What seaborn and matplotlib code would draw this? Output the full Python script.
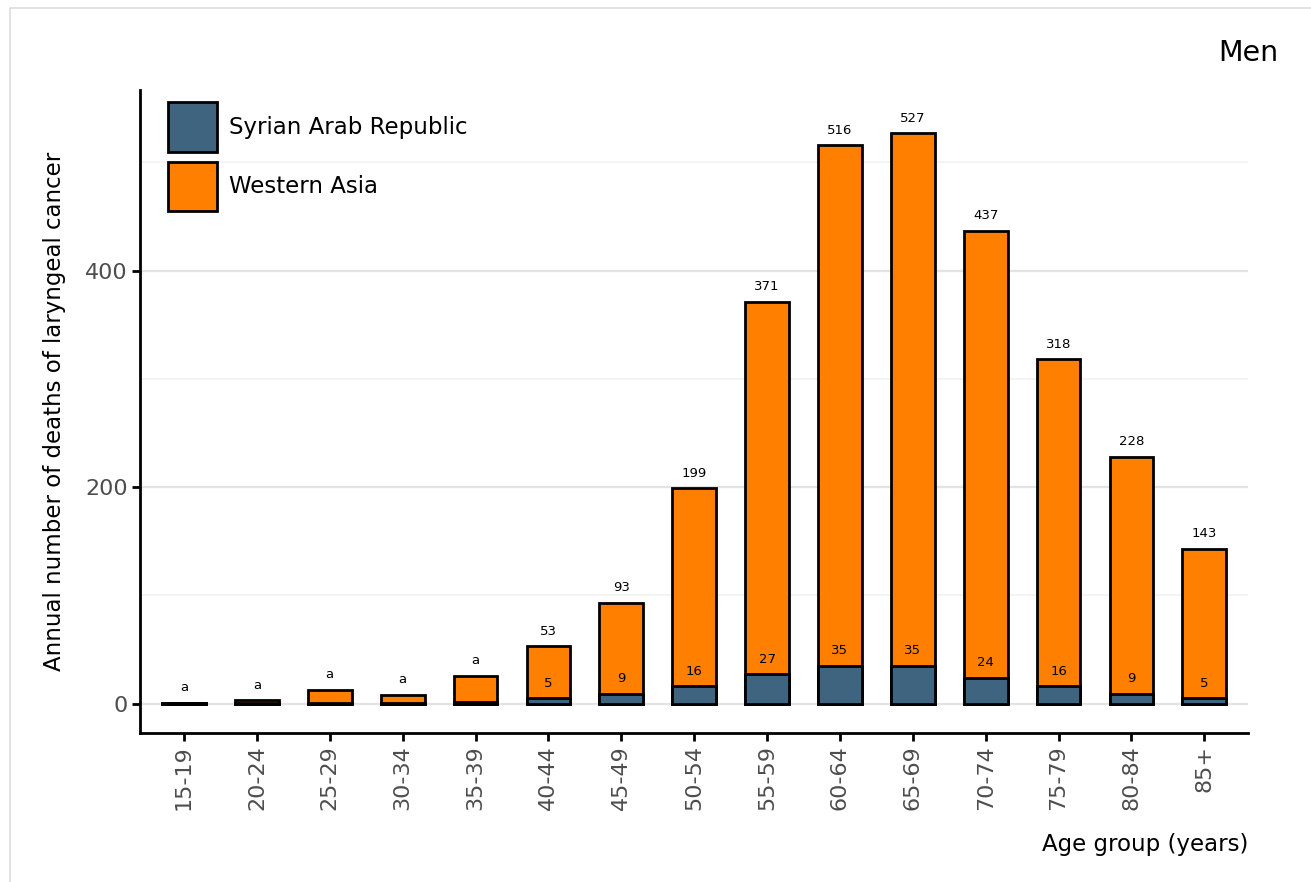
import numpy as np
import pandas as pd
import matplotlib
matplotlib.use("Agg")
import matplotlib.pyplot as plt
import seaborn as sns
from matplotlib.patches import Patch, Rectangle
from matplotlib.ticker import MultipleLocator

age_groups = ['15-19', '20-24', '25-29', '30-34', '35-39', '40-44', '45-49',
              '50-54', '55-59', '60-64', '65-69', '70-74', '75-79', '80-84', '85+']
western_asia = [1, 3, 13, 8, 26, 53, 93, 199, 371, 516, 527, 437, 318, 228, 143]
syria = [0.3, 1, 0.4, 0.5, 2, 5, 9, 16, 27, 35, 35, 24, 16, 9, 5]
wa_labels = ['a', 'a', 'a', 'a', 'a', '53', '93', '199', '371', '516', '527',
             '437', '318', '228', '143']
sy_labels = ['', '', '', '', '', '5', '9', '16', '27', '35', '35', '24', '16', '9', '5']

blue = '#3f6480'
orange = '#ff8000'

sns.set_style("white")
plt.rcParams['font.family'] = ['DejaVu Sans']
plt.rcParams['text.color'] = 'black'
plt.rcParams['axes.labelcolor'] = 'black'

df = pd.DataFrame({'age': age_groups, 'wa': western_asia, 'sy': syria})

fig = plt.figure(figsize=(13.11, 8.82), dpi=100)
ax = fig.add_axes([0.107, 0.169, 0.845, 0.729])

# light border of the figure panel
fig.patches.append(Rectangle((10 / 1311, -0.01), 1.02, (882 - 8) / 882 + 0.01,
                             transform=fig.transFigure, fill=False,
                             edgecolor='#dddddd', linewidth=1.2))

sns.barplot(data=df, x='age', y='wa', color=orange, width=0.6,
            edgecolor='black', linewidth=2, saturation=1, ax=ax, zorder=3)
sns.barplot(data=df, x='age', y='sy', color=blue, width=0.6,
            edgecolor='black', linewidth=2, saturation=1, ax=ax, zorder=4)

for i in range(len(age_groups)):
    ax.text(i, western_asia[i] + 8, wa_labels[i], ha='center', va='bottom',
            fontsize=9.5, color='black', zorder=5)
    if sy_labels[i]:
        ax.text(i, syria[i] + 8, sy_labels[i], ha='center', va='bottom',
                fontsize=9.5, color='black', zorder=5)

ax.set_xlim(-0.6, 14.6)
ax.set_ylim(-27, 567)
ax.yaxis.set_major_locator(MultipleLocator(200))
ax.yaxis.set_minor_locator(MultipleLocator(100))
ax.grid(axis='y', which='major', color='#e3e3e3', linewidth=1.6, zorder=0)
ax.grid(axis='y', which='minor', color='#f4f4f4', linewidth=1.4, zorder=0)
ax.set_axisbelow(True)

for s in ['top', 'right']:
    ax.spines[s].set_visible(False)
for s in ['left', 'bottom']:
    ax.spines[s].set_color('black')
    ax.spines[s].set_linewidth(2)

ax.tick_params(axis='both', which='major', direction='out', length=6, width=2,
               color='black', labelcolor='#4d4d4d', labelsize=16, pad=3,
               bottom=True, left=True)
ax.tick_params(axis='y', which='minor', length=0)
plt.setp(ax.get_xticklabels(), rotation=90)

ax.set_xlabel('Age group (years)', fontsize=16.5, loc='right', labelpad=16)
ax.set_ylabel('Annual number of deaths of laryngeal cancer', fontsize=16.5, labelpad=14)

fig.text(0.975, 0.94, 'Men', ha='right', va='center', fontsize=20.5)

handles = [Patch(facecolor=blue, edgecolor='black', linewidth=2, label='Syrian Arab Republic'),
           Patch(facecolor=orange, edgecolor='black', linewidth=2, label='Western Asia')]
ax.legend(handles=handles, loc='upper left', frameon=False, fontsize=16.5,
          handlelength=2.15, handleheight=2.95, borderpad=0, borderaxespad=0,
          labelspacing=0.43, handletextpad=0.52, bbox_to_anchor=(0.025, 0.981))

fig.savefig('out.png', dpi=100)
